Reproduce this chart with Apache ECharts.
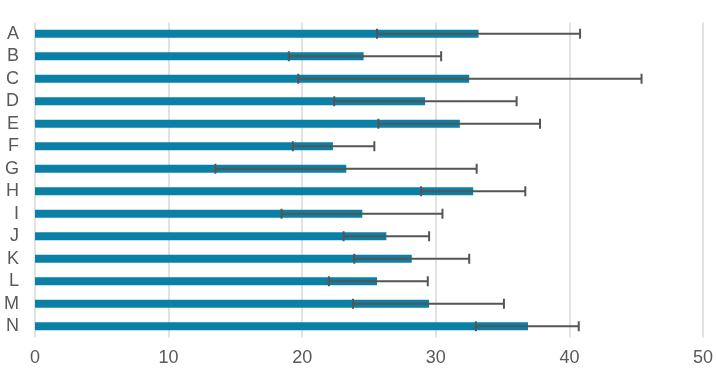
<!DOCTYPE html>
<html>
<head>
<meta charset="utf-8">
<script src="https://cdn.jsdelivr.net/npm/echarts@6/dist/echarts.min.js"></script>
<style>html,body{margin:0;padding:0;background:#fff}#c{width:716px;height:383px}</style>
</head>
<body>
<div id="c"></div>
<script>
var categories = ['A','B','C','D','E','F','G','H','I','J','K','L','M','N'];
var values    = [33.2, 24.6, 32.5, 29.2, 31.8, 22.3, 23.3, 32.8, 24.5, 26.3, 28.2, 25.6, 29.5, 36.9];
var errLow    = [25.6, 19.0, 19.7, 22.4, 25.7, 19.3, 13.5, 28.9, 18.45, 23.1, 23.9, 22.0, 23.8, 33.0];
var errHigh   = [40.8, 30.4, 45.4, 36.05, 37.8, 25.4, 33.06, 36.7, 30.5, 29.5, 32.5, 29.4, 35.1, 40.7];
var xTicks = [0, 10, 20, 30, 40, 50];

var errData = categories.map(function (c, i) { return [i, errLow[i], errHigh[i]]; });

var chart = echarts.init(document.getElementById('c'));
chart.setOption({
  animation: false,
  backgroundColor: '#ffffff',
  grid: { left: 35, right: 13, top: 22.5, bottom: 45.5, containLabel: false },
  xAxis: {
    type: 'value', min: xTicks[0], max: xTicks[xTicks.length - 1], interval: 10,
    axisLine: { show: false }, axisTick: { show: false },
    splitLine: { show: true, lineStyle: { color: '#d9d9d9', width: 1.5 } },
    axisLabel: { color: '#595959', fontSize: 18, fontFamily: 'Liberation Sans', margin: 12 }
  },
  yAxis: {
    type: 'category', data: categories, inverse: true,
    axisLine: { show: false }, axisTick: { show: false },
    axisLabel: { interval: 0, color: '#595959', fontSize: 18, fontFamily: 'Liberation Sans', margin: 16 }
  },
  series: [
    {
      type: 'bar', data: values, barWidth: 8,
      itemStyle: { color: '#0B80A7' }
    },
    {
      type: 'custom', data: errData,
      encode: { x: [1, 2], y: 0 },
      z: 10,
      renderItem: function (params, api) {
        var idx = api.value(0);
        var p1 = api.coord([api.value(1), idx]);
        var p2 = api.coord([api.value(2), idx]);
        var h = 5;
        var style = { stroke: '#555555', lineWidth: 2, fill: null };
        return {
          type: 'group',
          children: [
            { type: 'line', shape: { x1: p1[0], y1: p1[1], x2: p2[0], y2: p2[1] }, style: style },
            { type: 'line', shape: { x1: p1[0], y1: p1[1] - h, x2: p1[0], y2: p1[1] + h }, style: style },
            { type: 'line', shape: { x1: p2[0], y1: p2[1] - h, x2: p2[0], y2: p2[1] + h }, style: style }
          ]
        };
      }
    }
  ]
});
</script>
</body>
</html>
